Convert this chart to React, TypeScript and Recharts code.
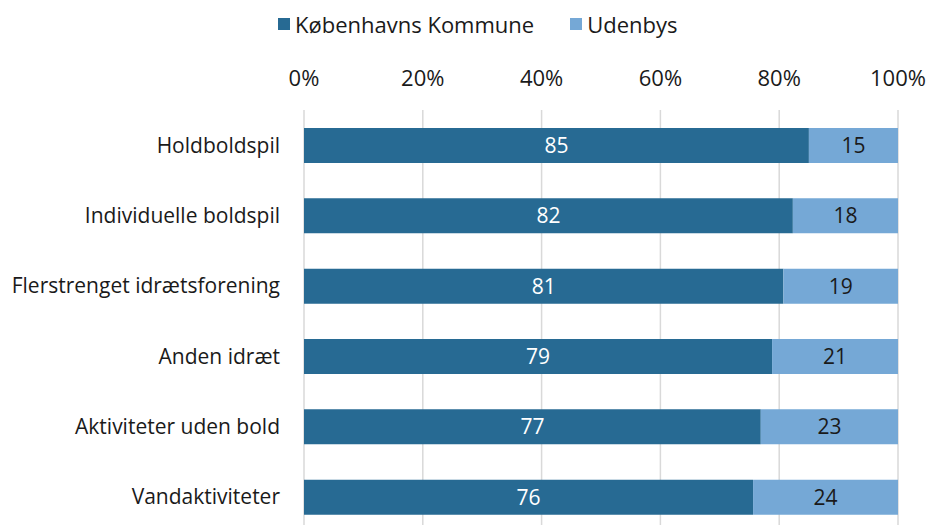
import React from "react";
import { BarChart, Bar, XAxis, YAxis, CartesianGrid, LabelList, Legend } from "recharts";

const categories = [
  "Holdboldspil",
  "Individuelle boldspil",
  "Flerstrenget idrætsforening",
  "Anden idræt",
  "Aktiviteter uden bold",
  "Vandaktiviteter",
];
const kbhValues = [85.0, 82.3, 80.7, 78.8, 76.9, 75.6];
const udenbysValues = [15.0, 17.7, 19.3, 21.2, 23.1, 24.4];
const xTicks = [0, 20, 40, 60, 80, 100];
const seriesNames = ["Københavns Kommune", "Udenbys"];

const DARK = "#276A93";
const LIGHT = "#75A8D6";
const FONT = "'Open Sans', sans-serif";
const FS = 21;
const FS_BIG = 22;

const data = categories.map((name, i) => ({
  name,
  kbh: kbhValues[i],
  udenbys: udenbysValues[i],
}));

const fmt = (v: any) => Math.round(Number(v));

const LegendContent = () => (
  <div
    style={{
      height: 48,
      display: "flex",
      alignItems: "center",
      fontFamily: FONT,
      fontSize: FS_BIG,
      color: "#1a1a1a",
      paddingLeft: 278,
      boxSizing: "border-box",
    }}
  >
    <span style={{ display: "inline-block", width: 12, height: 12, background: DARK, marginRight: 5 }} />
    <span style={{ marginRight: 36 }}>{seriesNames[0]}</span>
    <span style={{ display: "inline-block", width: 12, height: 12, background: LIGHT, marginRight: 5 }} />
    <span>{seriesNames[1]}</span>
  </div>
);

export default function App() {
  return (
    <div
      style={{
        position: "absolute",
        left: 0,
        top: 0,
        width: 929,
        height: 525,
        overflow: "hidden",
        background: "#fff",
      }}
    >
      <BarChart
        width={929}
        height={540}
        data={data}
        layout="vertical"
        margin={{ top: 0, right: 31, bottom: 8, left: 0 }}
        barSize={35}
      >
        <Legend verticalAlign="top" content={<LegendContent />} />
        <CartesianGrid horizontal={false} stroke="#D9D9D9" strokeWidth={1.5} />
        <XAxis
          type="number"
          orientation="top"
          domain={[0, 100]}
          ticks={xTicks}
          tickFormatter={(v) => `${v}%`}
          axisLine={false}
          tickLine={false}
          tickSize={0}
          tickMargin={24}
          height={62}
          tick={{ fill: "#1a1a1a", fontSize: FS_BIG, fontFamily: FONT }}
          interval={0}
        />
        <YAxis
          type="category"
          dataKey="name"
          width={304}
          axisLine={false}
          tickLine={false}
          tickSize={0}
          tickMargin={24}
          tick={{ fill: "#1a1a1a", fontSize: FS, fontFamily: FONT }}
          interval={0}
        />
        <Bar dataKey="kbh" stackId="a" fill={DARK} isAnimationActive={false}>
          <LabelList dataKey="kbh" position="center" fill="#ffffff" fontSize={FS} fontFamily={FONT} formatter={fmt} />
        </Bar>
        <Bar dataKey="udenbys" stackId="a" fill={LIGHT} isAnimationActive={false}>
          <LabelList dataKey="udenbys" position="center" fill="#1a1a1a" fontSize={FS} fontFamily={FONT} formatter={fmt} />
        </Bar>
      </BarChart>
    </div>
  );
}
